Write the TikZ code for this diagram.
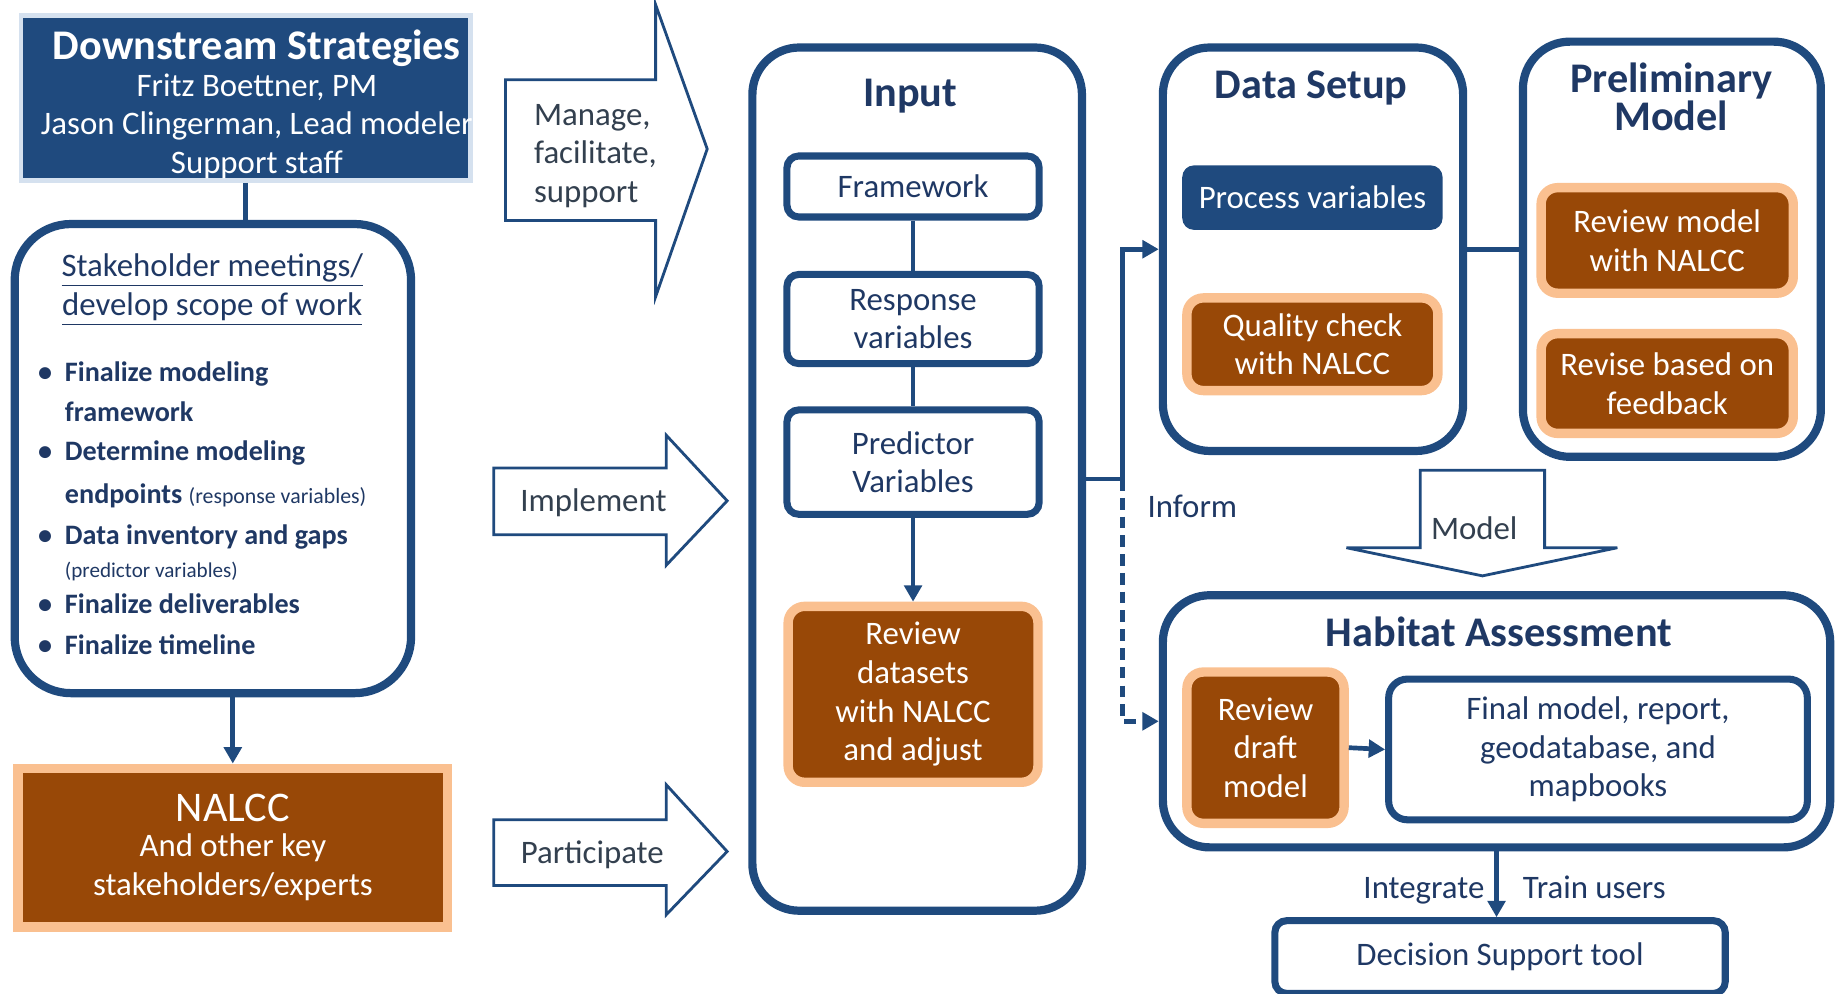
\documentclass[tikz,border=0pt]{standalone}
\usepackage{fontspec}
\setmainfont{Carlito}
\usetikzlibrary{arrows.meta}
\definecolor{navy}{HTML}{1F4A7E}
\definecolor{navytext}{HTML}{1F3864}
\definecolor{greytext}{HTML}{33404F}
\definecolor{rust}{HTML}{984807}
\definecolor{peach}{HTML}{FAC090}
\definecolor{paleblue}{HTML}{D5E1EF}
\newcommand{\fs}[2]{\fontsize{#1pt}{#2pt}\selectfont}
\tikzset{
  bigbox/.style={draw=navy, line width=3.5pt, rounded corners=20pt, inner sep=0pt},
  whitebox/.style={draw=navy, line width=3pt, rounded corners=5pt, align=center,
    text=navytext, font=\fs{14}{16.5}, inner sep=0pt},
  rustbox/.style={fill=rust, draw=peach, line width=4pt, rounded corners=7pt,
    align=center, text=white, font=\fs{14}{16.5}, inner sep=0pt},
  boxtitle/.style={text=navytext, font=\bfseries\fs{18}{16.5}, align=center},
  conn/.style={draw=navy, line width=2pt},
  arrowed/.style={-{Triangle[length=7pt,width=7.5pt]}},
  blockarrow/.style={draw=navy, line width=1.2pt, fill=white, line join=miter, miter limit=6},
  armlabel/.style={text=greytext, font=\fs{14}{16.5}, inner sep=0pt},
}
\begin{document}
\begin{tikzpicture}[x=0.5pt,y=-0.5pt]
  \useasboundingbox (0,0) rectangle (1568,847);
  % left column
  \node[fill=navy, draw=paleblue, line width=2pt, minimum width=191.5pt, minimum height=70.5pt] (ds) at (209.5,83.5) {};
  \node[text=white, align=center, font=\fs{14}{16.5}] (dsinfo) at (219,89)
    {{\bfseries\fs{18}{20}Downstream Strategies}\\[-1pt] Fritz Boettner, PM\\
     Jason Clingerman, Lead modeler\\ Support staff};
  \node[bigbox, rounded corners=24pt, minimum width=169pt, minimum height=200pt] (stake) at (181.5,391) {};
  \node[text=navytext, font=\fs{14}{16.5}, align=center] (scope) at (181,247)
    {\underline{Stakeholder meetings/}\\ \underline{develop scope of work}};
  \begin{scope}[every node/.style={anchor=base west, inner sep=0pt, text=navytext, font=\bfseries\fs{12}{14}}]
    \path
      (32,325) node (task1) {\makebox[11.5pt][l]{\textbullet}Finalize modeling}
      (55,359) node (task1b) {framework}
      (32,393) node (task2) {\makebox[11.5pt][l]{\textbullet}Determine modeling}
      (55,429) node (task2b) {endpoints {\mdseries\fs{9.3}{10}(response variables)}}
      (32,464) node (task3) {\makebox[11.5pt][l]{\textbullet}Data inventory and gaps}
      (55,492) node (task3b) {\mdseries\fs{9}{10}(predictor variables)}
      (32,523) node (task4) {\makebox[11.5pt][l]{\textbullet}Finalize deliverables}
      (32,558) node (task5) {\makebox[11.5pt][l]{\textbullet}Finalize timeline};
  \end{scope}
  \node[fill=rust, draw=peach, line width=4pt, minimum width=183pt, minimum height=67.75pt,
    text=white, align=center, font=\fs{14}{16.5}] (nalcc) at (198.5,722.75)
    {{\fs{18}{20}NALCC}\\[-1.5pt] And other key\\ stakeholders/experts};
  \draw[conn] (ds.south) -- (ds.south |- stake.north);
  \draw[conn, arrowed] (nalcc.north |- stake.south) -- (nalcc.north);
  % block arrows
  \draw[blockarrow] (431,68) -- (559,68) -- (559,4) -- (603,127) -- (559,253) -- (559,188) -- (431,188) -- cycle;
  \node[armlabel, anchor=west, align=left] (manage) at (455,133) {Manage,\\ facilitate,\\ support};
  \draw[blockarrow] (421,399) -- (568,399) -- (568,371) -- (620,427) -- (568,482) -- (568,456) -- (421,456) -- cycle;
  \node[armlabel] (implement) at (506,429) {Implement};
  \draw[blockarrow] (421,699) -- (568,699) -- (568,669) -- (620,726) -- (568,780) -- (568,755) -- (421,755) -- cycle;
  \node[armlabel] (participate) at (505,729) {Participate};
  % input
  \node[bigbox, minimum width=140.5pt, minimum height=368pt] (input) at (782,408.5) {};
  \node[boxtitle] (inputtitle) at (776,82) {Input};
  \node[whitebox, minimum width=107.5pt, minimum height=26pt] (frame) at (778.5,159) {Framework};
  \node[whitebox, minimum width=107.5pt, minimum height=38pt] (resp) at (778.5,272) {Response\\ variables};
  \node[whitebox, minimum width=107.5pt, minimum height=44.5pt] (pred) at (778.5,394) {Predictor\\ Variables};
  \node[rustbox, minimum width=106.5pt, minimum height=75pt] (revdata) at (778.5,592)
    {Review\\ datasets\\ with NALCC\\ and adjust};
  \draw[conn] (frame) -- (resp);
  \draw[conn] (resp) -- (pred);
  \draw[conn, arrowed] (pred) -- (revdata);
  % data setup
  \node[bigbox, minimum width=128pt, minimum height=172pt] (setup) at (1119.5,212.5) {};
  \node[boxtitle] (setuptitle) at (1118,75) {Data Setup};
  \node[fill=navy, rounded corners=5pt, minimum width=111pt, minimum height=27.5pt, inner sep=0pt,
    text=white, font=\fs{14}{16.5}] (proc) at (1119,168.5) {Process variables};
  \node[rustbox, minimum width=107pt, minimum height=39.5pt] (qual) at (1119,293.5) {Quality check\\ with NALCC};
  % preliminary model
  \node[bigbox, minimum width=127pt, minimum height=177pt] (prelim) at (1425.5,212.5) {};
  \node[boxtitle] (prelimtitle) at (1425,82.5) {Preliminary\\ Model};
  \node[rustbox, minimum width=107.5pt, minimum height=45pt] (revmod) at (1421.5,205) {Review model\\ with NALCC};
  \node[rustbox, minimum width=107.5pt, minimum height=42.5pt] (revise) at (1421.5,327) {Revise based on\\ feedback};
  \draw[conn] (setup.east) -- (prelim.west);
  \draw[blockarrow] (1211,401) -- (1317,401) -- (1317,467) -- (1379,467) -- (1264,491) -- (1148,467) -- (1211,467) -- cycle;
  \node[armlabel] (modellabel) at (1257,450) {Model};
  % habitat assessment
  \node[bigbox, minimum width=284.5pt, minimum height=107.5pt] (habitat) at (1276,615) {};
  \node[boxtitle] (habitattitle) at (1278,539) {Habitat Assessment};
  \node[rustbox, minimum width=67pt, minimum height=64.5pt] (draft) at (1079,637.5) {Review\\ draft\\ model};
  \node[whitebox, rounded corners=8pt, minimum width=178.5pt, minimum height=60pt] (final) at (1362.5,639)
    {Final model, report,\\ geodatabase, and\\ mapbooks};
  \draw[conn, arrowed] (draft.east) -- (final.west);
  \node[whitebox, minimum width=192pt, minimum height=31pt] (dst) at (1279,816) {Decision Support tool};
  % connectors
  \coordinate (split) at (957,408.5);
  \draw[conn, arrowed] (input.east) -- (split) |- (setup.west);
  \draw[conn, dash pattern=on 5pt off 3pt, arrowed] (split) |- (habitat.west);
  \node[armlabel, anchor=west, text=navytext] (inform) at (978,432) {Inform};
  \draw[conn, arrowed] (habitat.south) -- (habitat.south |- dst.north);
  \node[armlabel, anchor=base east, text=navytext] (integrate) at (1266,766) {Integrate};
  \node[armlabel, anchor=base west, text=navytext] (train) at (1298,766) {Train users};
\end{tikzpicture}
\end{document}
